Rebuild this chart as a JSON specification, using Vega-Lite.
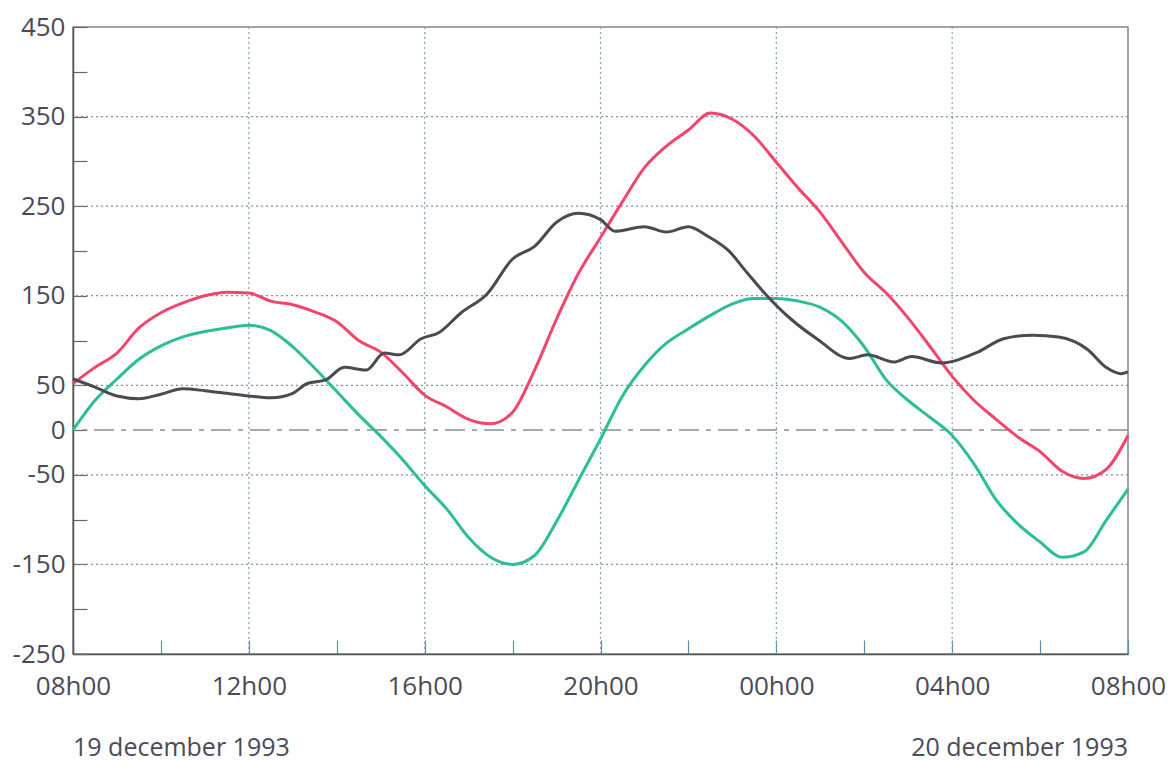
{
"$schema": "https://vega.github.io/schema/vega-lite/v6.json",
"width": 1055, "height": 627,
"autosize": "none",
"padding": {"left": 73, "top": 27, "right": 41, "bottom": 106},
"background": "white",
"config": {"view": {"stroke": "#858585", "strokeWidth": 1.5}, "font": "Open Sans"},
"datasets": {
 "series": [
  {"h":0,"s":"r","v":52},{"h":0.5,"s":"r","v":70},{"h":1,"s":"r","v":86},{"h":1.5,"s":"r","v":114},{"h":2,"s":"r","v":131},{"h":2.5,"s":"r","v":142},{"h":3,"s":"r","v":150},{"h":3.5,"s":"r","v":154},{"h":4,"s":"r","v":153},{"h":4.5,"s":"r","v":144},{"h":5,"s":"r","v":140},{"h":5.5,"s":"r","v":132},{"h":6,"s":"r","v":121},{"h":6.5,"s":"r","v":100},{"h":7,"s":"r","v":87},{"h":7.5,"s":"r","v":64},{"h":8,"s":"r","v":39},{"h":8.5,"s":"r","v":26},{"h":9,"s":"r","v":12},{"h":9.5,"s":"r","v":7},{"h":10,"s":"r","v":20},{"h":10.5,"s":"r","v":67},{"h":11,"s":"r","v":124},{"h":11.5,"s":"r","v":175},{"h":12,"s":"r","v":215},{"h":12.5,"s":"r","v":255},{"h":13,"s":"r","v":293},{"h":13.5,"s":"r","v":317},{"h":14,"s":"r","v":335},{"h":14.5,"s":"r","v":354},{"h":15,"s":"r","v":347},{"h":15.5,"s":"r","v":328},{"h":16,"s":"r","v":299},{"h":16.5,"s":"r","v":270},{"h":17,"s":"r","v":243},{"h":17.5,"s":"r","v":209},{"h":18,"s":"r","v":176},{"h":18.5,"s":"r","v":153},{"h":19,"s":"r","v":125},{"h":19.5,"s":"r","v":93},{"h":20,"s":"r","v":60},{"h":20.5,"s":"r","v":33},{"h":21,"s":"r","v":12},{"h":21.5,"s":"r","v":-8},{"h":22,"s":"r","v":-24},{"h":22.5,"s":"r","v":-46},{"h":23,"s":"r","v":-54},{"h":23.5,"s":"r","v":-44},{"h":24,"s":"r","v":-6},
  {"h":0,"s":"g","v":0},{"h":0.5,"s":"g","v":33},{"h":1,"s":"g","v":57},{"h":1.5,"s":"g","v":79},{"h":2,"s":"g","v":94},{"h":2.5,"s":"g","v":104},{"h":3,"s":"g","v":110},{"h":3.5,"s":"g","v":114},{"h":4,"s":"g","v":117},{"h":4.5,"s":"g","v":111},{"h":5,"s":"g","v":93},{"h":5.5,"s":"g","v":69},{"h":6,"s":"g","v":43},{"h":6.5,"s":"g","v":17},{"h":7,"s":"g","v":-7},{"h":7.5,"s":"g","v":-33},{"h":8,"s":"g","v":-62},{"h":8.5,"s":"g","v":-88},{"h":9,"s":"g","v":-120},{"h":9.5,"s":"g","v":-142},{"h":10,"s":"g","v":-150},{"h":10.5,"s":"g","v":-140},{"h":11,"s":"g","v":-102},{"h":11.5,"s":"g","v":-56},{"h":12,"s":"g","v":-10},{"h":12.5,"s":"g","v":38},{"h":13,"s":"g","v":72},{"h":13.5,"s":"g","v":97},{"h":14,"s":"g","v":113},{"h":14.5,"s":"g","v":128},{"h":15,"s":"g","v":141},{"h":15.5,"s":"g","v":147},{"h":16,"s":"g","v":147},{"h":16.5,"s":"g","v":144},{"h":17,"s":"g","v":137},{"h":17.5,"s":"g","v":121},{"h":18,"s":"g","v":93},{"h":18.5,"s":"g","v":56},{"h":19,"s":"g","v":33},{"h":19.5,"s":"g","v":14},{"h":20,"s":"g","v":-6},{"h":20.5,"s":"g","v":-38},{"h":21,"s":"g","v":-78},{"h":21.5,"s":"g","v":-105},{"h":22,"s":"g","v":-125},{"h":22.5,"s":"g","v":-142},{"h":23,"s":"g","v":-136},{"h":23.5,"s":"g","v":-101},{"h":24,"s":"g","v":-66},
  {"h":0,"s":"k","v":57},{"h":0.5,"s":"k","v":48},{"h":1,"s":"k","v":38},{"h":1.5,"s":"k","v":35},{"h":2,"s":"k","v":40},{"h":2.5,"s":"k","v":46},{"h":3,"s":"k","v":44},{"h":3.5,"s":"k","v":41},{"h":4,"s":"k","v":38},{"h":4.5,"s":"k","v":36},{"h":5,"s":"k","v":41},{"h":5.33,"s":"k","v":52},{"h":5.75,"s":"k","v":56},{"h":6.17,"s":"k","v":70},{"h":6.67,"s":"k","v":67},{"h":7.08,"s":"k","v":86},{"h":7.42,"s":"k","v":84},{"h":7.92,"s":"k","v":102},{"h":8.33,"s":"k","v":109},{"h":8.83,"s":"k","v":131},{"h":9.42,"s":"k","v":152},{"h":10,"s":"k","v":191},{"h":10.5,"s":"k","v":205},{"h":11,"s":"k","v":232},{"h":11.5,"s":"k","v":242},{"h":12,"s":"k","v":235},{"h":12.33,"s":"k","v":222},{"h":13,"s":"k","v":227},{"h":13.5,"s":"k","v":221},{"h":14,"s":"k","v":227},{"h":14.42,"s":"k","v":217},{"h":14.92,"s":"k","v":200},{"h":15.33,"s":"k","v":176},{"h":15.75,"s":"k","v":152},{"h":16.33,"s":"k","v":124},{"h":16.92,"s":"k","v":102},{"h":17.67,"s":"k","v":80},{"h":18.08,"s":"k","v":84},{"h":18.67,"s":"k","v":76},{"h":19.08,"s":"k","v":82},{"h":19.75,"s":"k","v":75},{"h":20.58,"s":"k","v":87},{"h":21.17,"s":"k","v":102},{"h":21.83,"s":"k","v":106},{"h":22.42,"s":"k","v":104},{"h":23.08,"s":"k","v":90},{"h":23.5,"s":"k","v":70},{"h":23.83,"s":"k","v":63},{"h":24,"s":"k","v":65}
 ],
 "hgrid": [{"v":350},{"v":250},{"v":150},{"v":50},{"v":-50},{"v":-150}],
 "zero": [{"v":0}],
 "vgrid": [{"h":4},{"h":8},{"h":12},{"h":16},{"h":20}],
 "dates": [
  {"h":0,"v":-250,"label":"19 december 1993","side":"left"},
  {"h":24,"v":-250,"label":"20 december 1993","side":"right"}
 ]
},
"layer": [
 {
  "data": {"name": "hgrid"},
  "mark": {"type": "rule", "stroke": "#8890a8", "strokeWidth": 1.2, "strokeDash": [2, 3]},
  "encoding": {
   "y": {"field": "v", "type": "quantitative",
    "scale": {"domain": [-250, 450], "nice": false, "zero": false},
    "axis": {
     "title": null,
     "values": [-250,-200,-150,-100,-50,0,50,100,150,200,250,300,350,400,450],
     "labelExpr": "abs(datum.value) % 100 == 50 || datum.value == 0 ? '' + datum.value : ''",
     "grid": false,
     "tickSize": -14, "tickColor": "#666", "tickWidth": 1.2,
     "domainColor": "#555", "domainWidth": 1.5,
     "labelFontSize": 26, "labelColor": "#4a4a58", "labelPadding": 22,
     "labelOverlap": false, "labelFlush": false, "labelBound": false
    }
   }
  }
 },
 {
  "data": {"name": "vgrid"},
  "mark": {"type": "rule", "stroke": "#7ea4c2", "strokeWidth": 1.2, "strokeDash": [2, 3]},
  "encoding": {
   "x": {"field": "h", "type": "quantitative",
    "scale": {"domain": [0, 24], "nice": false, "zero": false},
    "axis": {
     "title": null,
     "values": [0,2,4,6,8,10,12,14,16,18,20,22,24],
     "labelExpr": "datum.value % 4 == 0 ? (((datum.value + 8) % 24) < 10 ? '0' : '') + ((datum.value + 8) % 24) + 'h00' : ''",
     "grid": false,
     "tickSize": -14, "tickColor": "#5a8fb0", "tickWidth": 1.2,
     "domainColor": "#555", "domainWidth": 1.5,
     "labelFontSize": 26, "labelColor": "#4a4a58", "labelPadding": 33,
     "labelFlush": false, "labelOverlap": false, "labelBound": false
    }
   }
  }
 },
 {
  "data": {"name": "zero"},
  "mark": {"type": "rule", "stroke": "#8c8c8c", "strokeWidth": 1.6, "strokeDash": [20, 7, 5, 7]},
  "encoding": {"y": {"field": "v", "type": "quantitative", "scale": {"domain": [-250, 450], "nice": false, "zero": false}}}
 },
 {
  "data": {"name": "series"},
  "mark": {"type": "line", "interpolate": "monotone", "strokeWidth": 3},
  "encoding": {
   "x": {"field": "h", "type": "quantitative", "scale": {"domain": [0, 24], "nice": false, "zero": false}},
   "y": {"field": "v", "type": "quantitative", "scale": {"domain": [-250, 450], "nice": false, "zero": false}},
   "color": {"field": "s", "type": "nominal",
    "scale": {"domain": ["r", "g", "k"], "range": ["#f2456c", "#2dbd98", "#4b4a4e"]},
    "legend": null}
  }
 },
 {
  "data": {"name": "dates"},
  "transform": [{"filter": "datum.side == 'left'"}],
  "mark": {"type": "text", "align": "left", "baseline": "middle", "dy": 94, "fontSize": 25, "color": "#4a4a58"},
  "encoding": {
   "x": {"field": "h", "type": "quantitative", "scale": {"domain": [0, 24], "nice": false, "zero": false}},
   "y": {"field": "v", "type": "quantitative", "scale": {"domain": [-250, 450], "nice": false, "zero": false}},
   "text": {"field": "label"}
  }
 },
 {
  "data": {"name": "dates"},
  "transform": [{"filter": "datum.side == 'right'"}],
  "mark": {"type": "text", "align": "right", "baseline": "middle", "dy": 94, "fontSize": 25, "color": "#4a4a58"},
  "encoding": {
   "x": {"field": "h", "type": "quantitative", "scale": {"domain": [0, 24], "nice": false, "zero": false}},
   "y": {"field": "v", "type": "quantitative", "scale": {"domain": [-250, 450], "nice": false, "zero": false}},
   "text": {"field": "label"}
  }
 }
]
}
